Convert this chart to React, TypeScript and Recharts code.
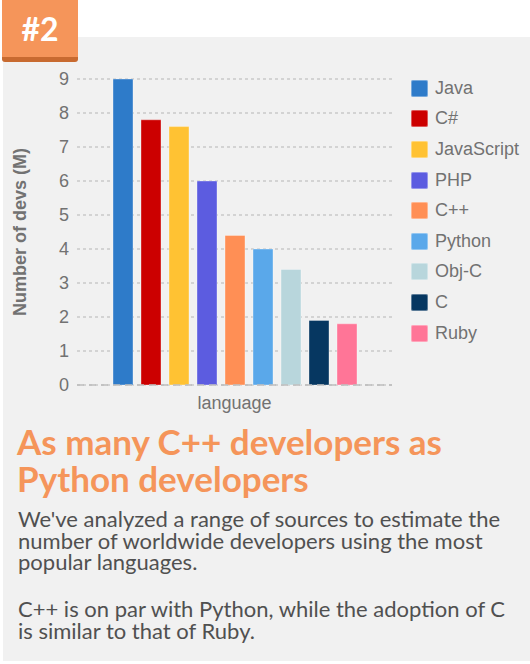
import { BarChart, Bar, XAxis, YAxis, CartesianGrid, Legend } from 'recharts';

const languages = ['Java', 'C#', 'JavaScript', 'PHP', 'C++', 'Python', 'Obj-C', 'C', 'Ruby'];
const devsMillions = [9.0, 7.8, 7.6, 6.0, 4.4, 4.0, 3.4, 1.9, 1.8];
const barColors = ['#2e7bc9', '#cc0000', '#ffc233', '#5c5ce0', '#ff8f55', '#5aa8ea', '#b8d6dc', '#063761', '#ff7597'];
const yTicks = [0, 1, 2, 3, 4, 5, 6, 7, 8, 9];

const row: Record<string, string | number> = { category: 'language' };
languages.forEach((name, i) => {
    row[name] = devsMillions[i];
});
const chartData = [row];

const chartFont = '"Liberation Sans", Arial, Helvetica, sans-serif';
const textFont = 'Lato, "Open Sans", sans-serif';

// keep legend in series order (recharts sorts by name otherwise)
const LegendList = ({ payload }: any) => {
    const items = [...(payload || [])].sort(
        (a: any, b: any) => languages.indexOf(a.value) - languages.indexOf(b.value)
    );
    return (
        <div style={{ fontFamily: chartFont }}>
            {items.map((entry: any) => (
                <div key={entry.value} style={{ height: 30.6, display: 'flex', alignItems: 'center' }}>
                    <span
                        style={{
                            display: 'inline-block',
                            width: 17,
                            height: 17,
                            borderRadius: 2,
                            background: entry.color,
                            boxShadow: 'inset 0 0 0 1px rgba(255,255,255,0.35)',
                            marginRight: 7,
                        }}
                    />
                    <span style={{ fontSize: 18, color: '#727272' }}>{entry.value}</span>
                </div>
            ))}
        </div>
    );
};

export default function App() {
    return (
        <div style={{ position: 'absolute', left: 0, top: 0, width: 530, height: 664, background: '#ffffff', overflow: 'hidden' }}>
            <div style={{ position: 'absolute', left: 3, top: 37, width: 527, height: 624, background: '#f1f1f1' }} />

            <div style={{ position: 'absolute', left: 0, top: 0 }}>
                <BarChart
                    width={530}
                    height={430}
                    data={chartData}
                    margin={{ top: 79, right: 13, bottom: 15, left: 0 }}
                    barSize={20}
                    barGap={8}
                >
                    <CartesianGrid vertical={false} strokeDasharray="3 3" stroke="#b5b5b5" />
                    <XAxis
                        dataKey="category"
                        tick={false}
                        tickLine={false}
                        height={30}
                        axisLine={{ stroke: '#bdbdbd', strokeDasharray: '7 5', strokeWidth: 1.5 }}
                        label={{ value: 'language', position: 'insideBottom', offset: 6, fill: '#727272', fontSize: 18, fontFamily: chartFont }}
                    />
                    <YAxis
                        width={77}
                        domain={[0, 9]}
                        ticks={yTicks}
                        tickLine={false}
                        axisLine={false}
                        tick={{ fill: '#727272', fontSize: 18, fontFamily: chartFont }}
                        label={{
                            value: 'Number of devs (M)',
                            angle: -90,
                            position: 'insideLeft',
                            offset: 20,
                            fill: '#727272',
                            fontSize: 18,
                            fontWeight: 'bold',
                            fontFamily: chartFont,
                            style: { textAnchor: 'middle' },
                        }}
                    />
                    <Legend
                        layout="vertical"
                        align="right"
                        verticalAlign="top"
                        content={<LegendList />}
                        wrapperStyle={{ left: 411, top: 73, width: 125 }}
                    />
                    {languages.map((name, i) => (
                        <Bar
                            key={name}
                            dataKey={name}
                            fill={barColors[i]}
                            stroke="#ffffff"
                            strokeOpacity={0.35}
                            strokeWidth={1}
                            isAnimationActive={false}
                        />
                    ))}
                </BarChart>
            </div>

            <div
                style={{
                    position: 'absolute',
                    left: 2,
                    top: 0,
                    width: 76,
                    height: 57,
                    background: '#f5955a',
                    borderBottom: '5px solid #c86a30',
                    borderRadius: '0 0 3px 3px',
                    color: '#ffffff',
                    fontFamily: textFont,
                    fontWeight: 'bold',
                    fontSize: 32,
                    lineHeight: '57px',
                    textAlign: 'center',
                }}
            >
                #2
            </div>

            <div
                style={{
                    position: 'absolute',
                    left: 17,
                    top: 423,
                    width: 512,
                    fontFamily: textFont,
                    fontWeight: 'bold',
                    fontSize: 35,
                    lineHeight: '37px',
                    color: '#f5955a',
                }}
            >
                As many C++ developers as
                <br />
                Python developers
            </div>

            <div
                style={{
                    position: 'absolute',
                    left: 18,
                    top: 508,
                    width: 512,
                    fontFamily: textFont,
                    fontSize: 22,
                    lineHeight: '21.5px',
                    color: '#505050',
                }}
            >
                <div>
                    We've analyzed a range of sources to estimate the
                    <br />
                    number of worldwide developers using the most
                    <br />
                    popular languages.
                </div>
                <div style={{ marginTop: 25.5 }}>
                    C++ is on par with Python, while the adoption of C
                    <br />
                    is similar to that of Ruby.
                </div>
            </div>
        </div>
    );
}
